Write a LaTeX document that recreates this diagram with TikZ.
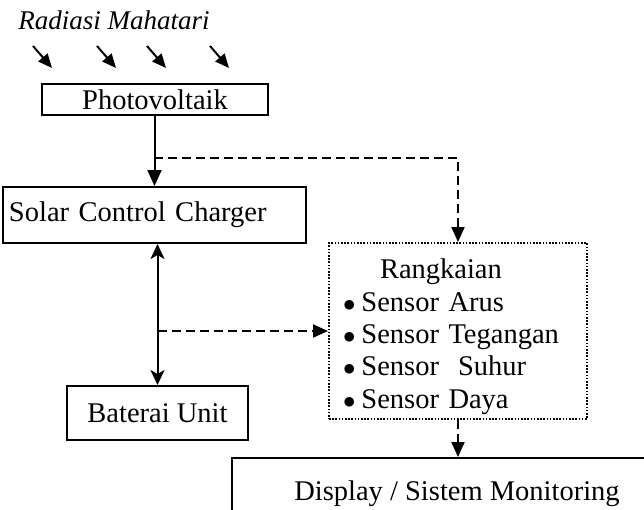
\documentclass[tikz,border=0pt]{standalone}
\usepackage{fontspec}
\setmainfont{Liberation Serif}
\usepackage{tikz}
\usetikzlibrary{arrows.meta, positioning}

\tikzset{
  box/.style={draw, line width=2pt, inner sep=0pt, font=\fontsize{28.5}{32.3}\selectfont},
  flow/.style={line width=2pt, -{Triangle[length=16pt,width=14pt]}},
  sig/.style={line width=2pt, dash pattern=on 9pt off 5pt, -{Triangle[length=15pt,width=13pt]}},
  ray/.style={line width=2pt, -{Triangle[length=14pt,width=12pt]}}
}
\newcommand{\itembul}{$\bullet$\hspace{6pt}}

\begin{document}
\begin{tikzpicture}[x=1pt,y=-1pt]
\clip (0,0) rectangle (644,509);
\node (radiasi) at (114,20) {\fontsize{27}{30}\selectfont\textit{Radiasi Mahatari}};
\coordinate (r1a) at (33,46);  \coordinate (r1b) at (52,68);
\coordinate (r2a) at (97,46);  \coordinate (r2b) at (116,68);
\coordinate (r3a) at (147,46); \coordinate (r3b) at (166,68);
\coordinate (r4a) at (210,46); \coordinate (r4b) at (229,68);
\draw [ray] (r1a) -- (r1b);
\draw [ray] (r2a) -- (r2b);
\draw [ray] (r3a) -- (r3b);
\draw [ray] (r4a) -- (r4b);
\node [box, minimum width=226pt, minimum height=31pt] (pv) at (155,99.5) {Photovoltaik};
\node [box, anchor=west, text width=291pt, inner xsep=6pt, minimum height=56pt, align=left] (scc) at (2,215) {Solar Control Charger};
\node [box, minimum width=181pt, minimum height=54pt] (bat) at (157.5,413) {Baterai Unit};
\node [box, dash pattern=on 1.6pt off 1.6pt, text width=230pt, inner xsep=14pt, minimum height=176pt, align=left] (rk) at (458,331)
  {\rule{0pt}{31pt}\hspace*{37pt}Rangkaian\\ \itembul Sensor Arus\\ \itembul Sensor Tegangan\\ \itembul Sensor\ \ Suhur\\ \itembul Sensor Daya};
\node [box, minimum width=450pt, minimum height=70pt] (disp) at (457,493) {};
\node [font=\fontsize{28.5}{32.5}\selectfont] (disptxt) at (457,494) {Display / Sistem Monitoring};
\coordinate (tap1) at (153.5,158);
\coordinate (tap2) at (157.5,331);
\draw [flow] (scc.north |- pv.south) -- (scc.north);
\draw [sig] (tap1) -| (rk.north);
\draw [line width=2pt, {Stealth[length=15pt,width=14pt,inset=4pt]}-{Stealth[length=15pt,width=14pt,inset=4pt]}] (bat.north |- scc.south) -- (bat.north);
\draw [sig] (tap2) -- (rk.west);
\draw [sig] (rk.south) -- (rk.south |- disp.north);
\end{tikzpicture}
\end{document}
